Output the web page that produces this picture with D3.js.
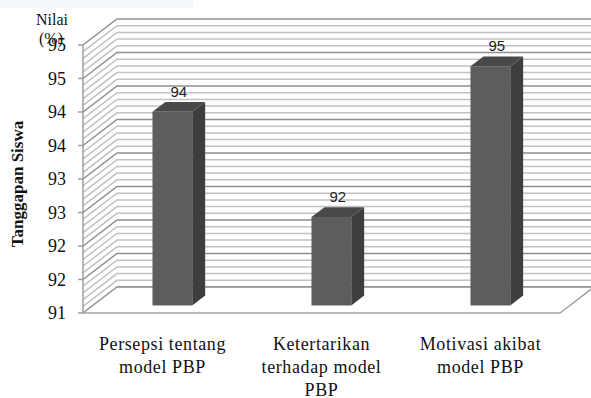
<!DOCTYPE html>
<html><head><meta charset="utf-8">
<script src="https://cdn.jsdelivr.net/npm/d3@7"></script>
<style>html,body{margin:0;padding:0;background:#fff;}svg{display:block;}</style>
</head><body>
<script>
const categories = [["Persepsi tentang","model PBP"],["Ketertarikan","terhadap model","PBP"],["Motivasi akibat","model PBP"]];
const catKeys = ["Persepsi tentang model PBP","Ketertarikan terhadap model PBP","Motivasi akibat model PBP"];
const values = [93.89, 92.32, 94.57];
const yTicks = [91, 91.5, 92, 92.5, 93, 93.5, 94, 94.5, 95];
const yTitle = "Tanggapan Siswa";
const unitTitle = ["Nilai", "(%)"];

const SERIF = "'Liberation Serif', 'Times New Roman', 'DejaVu Serif', serif";
const SANS = "'Liberation Sans', Arial, sans-serif";
const W = 591, H = 398;
const svg = d3.select("body").append("svg").attr("width", W).attr("height", H);
svg.append("rect").attr("x",0).attr("y",0).attr("width",193).attr("height",8).attr("fill","#f3f6fa");

const DX = 34, DY = -26;
const y = d3.scaleLinear().domain([91, 95]).range([313, 45]);
const x = d3.scaleBand().domain(catKeys).range([83, 560]).paddingInner(0).paddingOuter(0);
const f1 = 0.29, f2 = 0.67;

const g = svg.append("g");
const gridVals = d3.range(0, 41).map(i => 91 + i * 0.1);
gridVals.forEach((v, i) => {
  const major = i % 5 === 0;
  const col = major ? "#8e8e8e" : "#c2c2c2";
  g.append("path")
    .attr("d", `M${83},${y(v)} L${83 + DX},${y(v) + DY} L${600},${y(v) + DY}`)
    .attr("fill", "none").attr("stroke", col).attr("stroke-width", 1.5);
});
g.append("path")
  .attr("d", `M83,${y(91)} L560,${y(91)} L${560 + DX},${y(91) + DY} L${83 + DX},${y(91) + DY} Z`)
  .attr("fill", "#fff").attr("stroke", "none");
g.append("path")
  .attr("d", `M83,${y(91)} L${83 + DX},${y(91) + DY}`)
  .attr("stroke", "#9a9a9a").attr("stroke-width", 1.4).attr("fill","none");
g.append("path")
  .attr("d", `M83,${y(91)} L560,${y(91)} L${560 + DX},${y(91) + DY}`)
  .attr("fill", "none").attr("stroke", "#a4a4a4").attr("stroke-width", 1.5);
g.append("path")
  .attr("d", `M${83 + DX},${y(91) + DY} L${600},${y(91) + DY}`)
  .attr("fill", "none").attr("stroke", "#8e8e8e").attr("stroke-width", 1.4);

g.append("line").attr("x1", 83).attr("x2", 83).attr("y1", y(95)).attr("y2", y(91))
  .attr("stroke", "#999").attr("stroke-width", 1.4);
yTicks.forEach(t => {
  g.append("line").attr("x1", 78).attr("x2", 83).attr("y1", y(t)).attr("y2", y(t))
    .attr("stroke", "#999").attr("stroke-width", 1.4);
  g.append("text").attr("x", 66).attr("y", y(t)).attr("dy", "0.35em")
    .attr("text-anchor", "end").style("font-family", SERIF)
    .attr("font-size", 18).attr("fill", "#111").text(d3.format(".0f")(t));
});

const bw = x.bandwidth() * 0.25;
values.forEach((v, i) => {
  const x0 = x(catKeys[i]) + (x.bandwidth() - bw) / 2;
  const fx = x0 + f1 * DX, bx = x0 + f2 * DX;
  const fyB = y(91) + f1 * DY, fyT = y(v) + f1 * DY;
  const byB = y(91) + f2 * DY, byT = y(v) + f2 * DY;
  g.append("path").attr("d", `M${fx + bw},${fyT} L${bx + bw},${byT} L${bx + bw},${byB} L${fx + bw},${fyB} Z`)
    .attr("fill", "#3e3e3e");
  g.append("path").attr("d", `M${fx},${fyT} L${bx},${byT} L${bx + bw},${byT} L${fx + bw},${fyT} Z`)
    .attr("fill", "#494949");
  g.append("rect").attr("x", fx).attr("y", fyT).attr("width", bw).attr("height", fyB - fyT)
    .attr("fill", "#5d5d5d");
  g.append("text").attr("x", (fx + bx + bw) / 2).attr("y", byT - 5)
    .attr("text-anchor", "middle").style("font-family", SANS)
    .attr("font-size", 15).attr("fill", "#222").text(d3.format(".0f")(v));
});

categories.forEach((lines, i) => {
  const cx = x(catKeys[i]) + x.bandwidth() / 2;
  lines.forEach((ln, j) => {
    svg.append("text").attr("x", cx).attr("y", 350 + j * 23)
      .attr("text-anchor", "middle").style("font-family", SERIF)
      .attr("font-size", 18).attr("letter-spacing", "0.6px").attr("fill", "#111").text(ln);
  });
});

svg.append("text").attr("transform", "translate(23,184) rotate(-90)")
  .attr("text-anchor", "middle").style("font-family", SERIF)
  .attr("font-weight", "bold").attr("font-size", 17).attr("fill", "#111").text(yTitle);
svg.append("text").attr("x", 52).attr("y", 25).attr("text-anchor", "middle")
  .style("font-family", SERIF).attr("font-size", 16).attr("fill", "#111").text(unitTitle[0]);
svg.append("text").attr("x", 51).attr("y", 44).attr("text-anchor", "middle")
  .style("font-family", SERIF).attr("font-size", 16).attr("fill", "#111").text(unitTitle[1]);
</script>
</body></html>
